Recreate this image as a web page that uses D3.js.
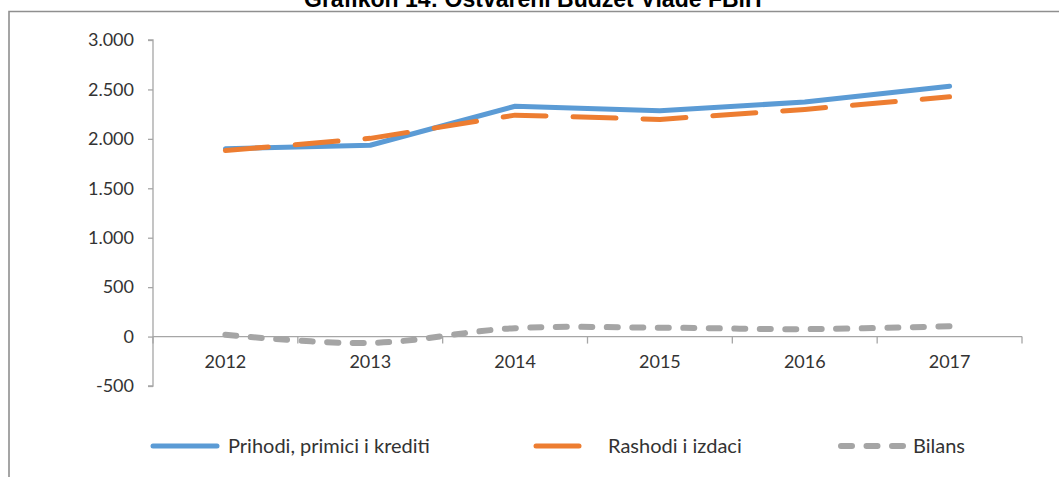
<!DOCTYPE html>
<html>
<head>
<meta charset="utf-8">
<script src="https://cdn.jsdelivr.net/npm/d3@7/dist/d3.min.js"></script>
<style>
  html, body { margin: 0; padding: 0; background: #fff; }
  svg { display: block; }
  .axis text { font-family: Lato, "Open Sans", sans-serif; font-size: 18px; fill: #333; }
  .axis path, .axis line { stroke: #a6a6a6; stroke-width: 1.3; }
  .legend text { font-family: Lato, "Open Sans", sans-serif; font-size: 20px; fill: #333; }
</style>
</head>
<body>
<div id="chart"></div>
<script>
// data
var years = ["2012", "2013", "2014", "2015", "2016", "2017"];
var prihodi = [1900, 1935, 2330, 2285, 2372, 2532];
var rashodi = [1882, 2005, 2240, 2197, 2298, 2425];
var bilans = [18, -65, 85, 90, 75, 105];
var yTicks = [-500, 0, 500, 1000, 1500, 2000, 2500, 3000];
var seriesNames = ["Prihodi, primici i krediti", "Rashodi i izdaci", "Bilans"];
var titleText = "Grafikon 14: Ostvareni Budžet Vlade FBiH";

var w = 1059, h = 477
    , plotLeft = 153, plotRight = 1022, plotTop = 40, plotBottom = 386;

var svg = d3.select("#chart").append("svg")
    .attr("width", w)
    .attr("height", h);

// title (cut off at the top) and frame
svg.append("text")
    .attr("x", 304)
    .attr("y", 7)
    .style("font-family", "'Liberation Sans', Arial, sans-serif")
    .style("font-weight", "bold")
    .style("font-size", "23px")
    .style("fill", "#000")
    .text(titleText);

svg.append("path")
    .attr("d", "M9," + h + "V11.5H" + w)
    .attr("fill", "none")
    .attr("stroke", "#8f8f8f")
    .attr("stroke-width", 1.6);

var xScale = d3.scaleBand().domain(years).range([plotLeft, plotRight]).padding(0);
var yScale = d3.scaleLinear().domain([-500, 3000]).range([plotBottom, plotTop]);

var locale = d3.formatLocale({decimal: ",", thousands: ".", grouping: [3], currency: ["", ""], minus: "-"});
var fmt = locale.format(",");

// y axis
var yAxis = d3.axisLeft(yScale).tickValues(yTicks).tickSize(5).tickPadding(14).tickFormat(fmt);
svg.append("g")
    .attr("class", "y axis")
    .attr("transform", "translate(" + plotLeft + ",0)")
    .call(yAxis)
    .call(function(g) { g.select(".domain").attr("d", "M-5," + plotTop + "H0V" + plotBottom + "H-5"); });

// x axis at zero
var y0 = yScale(0);
var xAxis = d3.axisBottom(xScale).tickSize(0).tickPadding(19);
var xg = svg.append("g")
    .attr("class", "x axis")
    .attr("transform", "translate(0," + y0 + ")")
    .call(xAxis);
xg.select(".domain").attr("d", "M" + plotLeft + ",0H" + plotRight);
var edges = years.map(function(d) { return xScale(d); }).concat([plotRight]);
xg.selectAll("line.edge")
    .data(edges)
    .enter().append("line")
    .attr("class", "edge")
    .attr("x1", function(d) { return d; })
    .attr("x2", function(d) { return d; })
    .attr("y1", 0)
    .attr("y2", 7);

var cx = function(d, i) { return xScale(years[i]) + xScale.bandwidth() / 2; };

var straight = d3.line().x(cx).y(function(d) { return yScale(d); });
var smooth = d3.line().x(cx).y(function(d) { return yScale(d); }).curve(d3.curveCatmullRom.alpha(0));

var styles = [
  {color: "#5b9bd5", width: 5, dash: null, gen: straight},
  {color: "#ed7d31", width: 5, dash: "43,27", gen: straight},
  {color: "#a5a5a5", width: 6, dash: "11,14.5", gen: smooth}
];
var series = [prihodi, rashodi, bilans];

// draw bilans first, then rashodi, then prihodi? keep Excel order: prihodi, rashodi, bilans
series.forEach(function(s, i) {
  svg.append("path")
      .datum(s)
      .attr("d", styles[i].gen)
      .attr("fill", "none")
      .attr("stroke", styles[i].color)
      .attr("stroke-width", styles[i].width)
      .attr("stroke-linecap", "round")
      .attr("stroke-linejoin", "round")
      .attr("stroke-dasharray", styles[i].dash);
});

// legend
var legendX = [150, 533, 838];
var legendY = 446;
var leg = svg.append("g").attr("class", "legend");
seriesNames.forEach(function(name, i) {
  leg.append("line")
      .attr("x1", legendX[i] + 3)
      .attr("x2", legendX[i] + 67)
      .attr("y1", legendY)
      .attr("y2", legendY)
      .attr("stroke", styles[i].color)
      .attr("stroke-width", styles[i].width)
      .attr("stroke-linecap", "round")
      .attr("stroke-dasharray", styles[i].dash);
  leg.append("text")
      .attr("x", legendX[i] + (i == 0 ? 78 : 75))
      .attr("y", legendY)
      .attr("dy", "0.35em")
      .text(name);
});
</script>
</body>
</html>
